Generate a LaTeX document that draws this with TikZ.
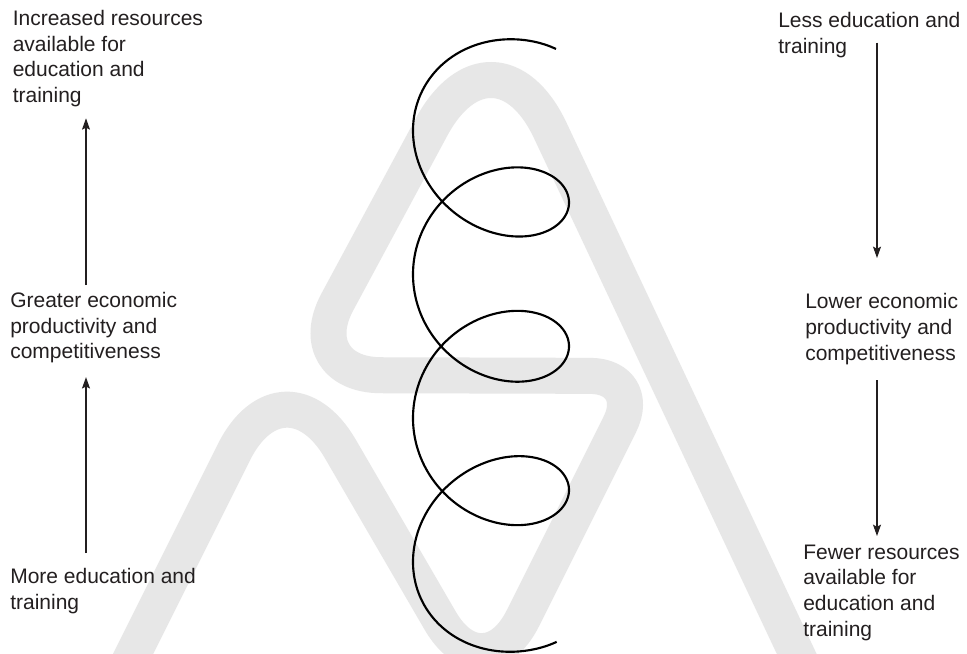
\documentclass[tikz,border=0pt]{standalone}
\usepackage{fontspec}
\setmainfont{Liberation Sans}
\usetikzlibrary{calc,arrows.meta}
\definecolor{wmgray}{RGB}{231,231,231}
\definecolor{ink}{RGB}{35,31,32}
\begin{document}
\begin{tikzpicture}[x=0.75pt,y=-0.75pt,
  lbl/.style={anchor=north west, inner sep=0pt, align=left, text=ink,
    font=\fontsize{15.75}{19.3}\selectfont},
  arr/.style={draw=ink, line width=0.8pt, -{Stealth[length=8.5pt,width=6pt,inset=1.5pt]}},
  wm/.style={draw=wmgray, line width=27pt, line join=round},
  helix/.style={draw=black, line width=1.6pt, line join=round}]
\useasboundingbox (0,0) rectangle (967,653);
\clip (0,0) rectangle (967,653);
\fill[white] (0,0) rectangle (967,653);

% watermark band
\coordinate (P1) at (120,680);
\coordinate (A) at (284,352);
\coordinate (B) at (484,696);
\coordinate (C) at (644,376);
\coordinate (E) at (298,375);
\coordinate (D) at (494,11);
\coordinate (F) at (809,680);
\draw[wm] (P1) -- ($(A)!84pt!(P1)$)
  .. controls ($(A)!37.6pt!(P1)$) and ($(A)!37.6pt!(B)$) .. ($(A)!84pt!(B)$)
  -- ($(B)!65.25pt!(A)$)
  .. controls ($(B)!29.2pt!(A)$) and ($(B)!29.2pt!(C)$) .. ($(B)!65.25pt!(C)$)
  -- ($(C)!40.5pt!(B)$)
  .. controls ($(C)!18.1pt!(B)$) and ($(C)!18.1pt!(E)$) .. ($(C)!40.5pt!(E)$)
  -- ($(E)!62.25pt!(C)$)
  .. controls ($(E)!27.9pt!(C)$) and ($(E)!27.9pt!(D)$) .. ($(E)!62.25pt!(D)$)
  -- ($(D)!99pt!(E)$)
  .. controls ($(D)!44.3pt!(E)$) and ($(D)!44.3pt!(F)$) .. ($(D)!99pt!(F)$)
  -- (F);

% helix
\draw[helix] plot[domain=0.586:24.57, samples=700, variable=\t]
  ({491+78*cos(deg(\t))},
   {58.75+22.88*\t-(67.5-25.6*exp(-min(\t-0.586,14)/1.6)-28.5*exp(-min(24.57-\t,14)/1.6))*sin(deg(\t))});

% labels
\node[lbl] (linc) at (12.5,10) {Increased resources\\available for\\education and\\training};
\node[lbl] (lgreat) at (10,292) {Greater economic\\productivity and\\competitiveness};
\node[lbl] (lmore) at (10,568.5) {More education and\\training};
\node[lbl] (rless) at (778,12.5) {Less education and\\training};
\node[lbl] (rlow) at (805,293.5) {Lower economic\\productivity and\\competitiveness};
\node[lbl] (rfew) at (803,544.5) {Fewer resources\\available for\\education and\\training};

\coordinate (xl) at (86,0);
\coordinate (xr) at (877,0);

% arrows
\draw[arr] ($(lgreat.north -| xl)+(0,-7)$) -- ($(linc.south -| xl)+(0,11)$);
\draw[arr] ($(lmore.north -| xl)+(0,-15.5)$) -- ($(lgreat.south -| xl)+(0,13.6)$);
\draw[arr] ($(rless.south -| xr)+(0,-15.6)$) -- ($(rlow.north -| xr)+(0,-35.5)$);
\draw[arr] ($(rlow.south -| xr)+(0,15)$) -- ($(rfew.north -| xr)+(0,-8.5)$);
\end{tikzpicture}
\end{document}
